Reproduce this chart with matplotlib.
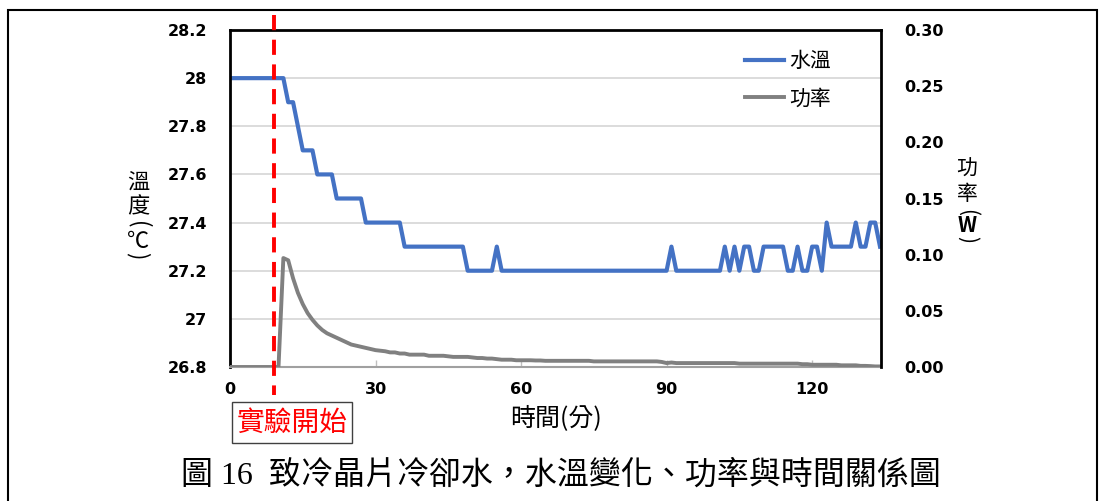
import numpy as np
import matplotlib.pyplot as plt
from matplotlib import transforms
from matplotlib.patches import Rectangle
from matplotlib.ticker import FuncFormatter

plt.rcParams['font.family'] = ['DejaVu Sans', 'Noto Sans CJK TC']
CJK = ['Noto Sans CJK TC', 'DejaVu Sans']

# ==========================================
# データ (1分ごとの記録)
# ==========================================
# 水溫 (℃), t = 0 .. 134 分
water_temp = [
    28.0, 28.0, 28.0, 28.0, 28.0, 28.0, 28.0, 28.0, 28.0, 28.0,
    28.0, 28.0, 27.9, 27.9, 27.8, 27.7, 27.7, 27.7, 27.6, 27.6,
    27.6, 27.6, 27.5, 27.5, 27.5, 27.5, 27.5, 27.5, 27.4, 27.4,
    27.4, 27.4, 27.4, 27.4, 27.4, 27.4, 27.3, 27.3, 27.3, 27.3,
    27.3, 27.3, 27.3, 27.3, 27.3, 27.3, 27.3, 27.3, 27.3, 27.2,
    27.2, 27.2, 27.2, 27.2, 27.2, 27.3, 27.2, 27.2, 27.2, 27.2,
    27.2, 27.2, 27.2, 27.2, 27.2, 27.2, 27.2, 27.2, 27.2, 27.2,
    27.2, 27.2, 27.2, 27.2, 27.2, 27.2, 27.2, 27.2, 27.2, 27.2,
    27.2, 27.2, 27.2, 27.2, 27.2, 27.2, 27.2, 27.2, 27.2, 27.2,
    27.2, 27.3, 27.2, 27.2, 27.2, 27.2, 27.2, 27.2, 27.2, 27.2,
    27.2, 27.2, 27.3, 27.2, 27.3, 27.2, 27.3, 27.3, 27.2, 27.2,
    27.3, 27.3, 27.3, 27.3, 27.3, 27.2, 27.2, 27.3, 27.2, 27.2,
    27.3, 27.3, 27.2, 27.4, 27.3, 27.3, 27.3, 27.3, 27.3, 27.4,
    27.3, 27.3, 27.4, 27.4, 27.3,
]

# 功率 (W), t = 0 .. 134 分
power_w = [
    0.000, 0.000, 0.000, 0.000, 0.000, 0.000, 0.000, 0.000, 0.000, 0.000,
    0.000, 0.097, 0.095, 0.079, 0.066, 0.056, 0.048, 0.042, 0.037, 0.033,
    0.030, 0.028, 0.026, 0.024, 0.022, 0.020, 0.019, 0.018, 0.017, 0.016,
    0.015, 0.0145, 0.014, 0.013, 0.013, 0.012, 0.012, 0.011, 0.011, 0.011,
    0.011, 0.010, 0.010, 0.010, 0.010, 0.0095, 0.009, 0.009, 0.009, 0.009,
    0.0085, 0.008, 0.008, 0.0075, 0.0075, 0.007, 0.0065, 0.0065, 0.0065, 0.006,
    0.006, 0.006, 0.006, 0.0058, 0.0058, 0.0055, 0.0055, 0.0055, 0.0055, 0.0055,
    0.0055, 0.0055, 0.0055, 0.0055, 0.0055, 0.005, 0.005, 0.005, 0.005, 0.005,
    0.005, 0.005, 0.005, 0.005, 0.005, 0.005, 0.005, 0.005, 0.005, 0.0045,
    0.0035, 0.004, 0.0035, 0.0035, 0.0035, 0.0035, 0.0035, 0.0035, 0.0035, 0.0035,
    0.0035, 0.0035, 0.0035, 0.0035, 0.0035, 0.003, 0.003, 0.003, 0.003, 0.003,
    0.003, 0.003, 0.003, 0.003, 0.003, 0.003, 0.003, 0.003, 0.0025, 0.0025,
    0.002, 0.002, 0.002, 0.002, 0.002, 0.002, 0.0015, 0.0015, 0.0015, 0.0015,
    0.001, 0.001, 0.0008, 0.0005, 0.0005,
]

minutes = np.arange(len(water_temp))
start_min = 9  # 實驗開始

x_ticks = [0, 30, 60, 90, 120]
temp_ticks = [26.8, 27.0, 27.2, 27.4, 27.6, 27.8, 28.0, 28.2]
power_ticks = [0.00, 0.05, 0.10, 0.15, 0.20, 0.25, 0.30]

caption = '圖 16  致冷晶片冷卻水，水溫變化、功率與時間關係圖'

# ==========================================
# 描画
# ==========================================
W, H = 1103, 501


def fx(px):
    return px / W


def fy(py):
    return 1 - py / H


fig = plt.figure(figsize=(W / 100, H / 100), dpi=100)
ax = fig.add_axes([fx(230), fy(367), fx(881) - fx(230), fy(30) - fy(367)])
ax2 = ax.twinx()

line_t, = ax.plot(minutes, water_temp, color='#4472C4', lw=3.0, label='水溫')
line_p, = ax2.plot(minutes, power_w, color='#808080', lw=2.8, label='功率')

ax.set_xlim(0, 134.2)
ax.set_ylim(26.8, 28.2)
ax2.set_ylim(0, 0.30)

ax.set_xticks(x_ticks)
ax.set_yticks(temp_ticks)
ax2.set_yticks(power_ticks)
ax.yaxis.set_major_formatter(FuncFormatter(lambda v, p: f'{v:g}'))
ax2.yaxis.set_major_formatter(FuncFormatter(lambda v, p: f'{v:.2f}'))

ax.grid(axis='y', color='#D9D9D9', lw=1.3)
ax.set_axisbelow(True)

ax.tick_params(axis='y', length=0, pad=16.5, labelsize=11.5)
ax2.tick_params(axis='y', length=0, pad=16.5, labelsize=11.5)
ax.tick_params(axis='x', direction='in', length=5, width=1, color='#BFBFBF',
               pad=11, labelsize=11.5)
for lbl in ax.get_xticklabels() + ax.get_yticklabels() + ax2.get_yticklabels():
    lbl.set_fontweight('bold')

# 枠線
for sp in ['left', 'top']:
    ax.spines[sp].set_color('black')
    ax.spines[sp].set_linewidth(2.0)
ax.spines['right'].set_visible(False)
ax.spines['bottom'].set_color('#A0A0A0')
ax.spines['bottom'].set_linewidth(1.5)
for sp in ['left', 'top', 'bottom']:
    ax2.spines[sp].set_visible(False)
ax2.spines['right'].set_color('black')
ax2.spines['right'].set_linewidth(2.0)

# 実験開始の赤い破線 (軸の外まで伸ばす)
trans = transforms.blended_transform_factory(ax2.transData, ax2.transAxes)
ax2.plot([start_min, start_min], [(367 - 15) / 337, (367 - 395) / 337],
         transform=trans, color='red', lw=2.8, dashes=(3.9, 2.45),
         clip_on=False, zorder=10)

# 凡例
ax2.legend([line_t, line_p], ['水溫', '功率'], loc='upper left',
           bbox_to_anchor=(fx(745), fy(50)), bbox_transform=fig.transFigure,
           frameon=False, prop={'family': CJK, 'size': 15},
           handlelength=1.85, handletextpad=0.25, labelspacing=0.75,
           borderpad=0, borderaxespad=0)


# 縦書きの軸ラベル: 括弧は90度回転して横向きの弧にする
def vertical_label(x, items, size):
    for ch, y, weight in items:
        rot = -90 if ch in '()' else 0
        fig.text(fx(x), fy(y), ch, family=CJK, fontsize=size, fontweight=weight,
                 rotation=rot, ha='center', va='center')


vertical_label(138, [('溫', 182, 'normal'), ('度', 207, 'normal'),
                     ('(', 225, 'normal'), ('℃', 241, 'normal'),
                     (')', 256, 'normal')], 16)
vertical_label(967, [('功', 169, 'normal'), ('率', 194, 'normal'),
                     ('(', 212, 'normal'), ('W', 226, 'bold'),
                     (')', 240, 'normal')], 15)

fig.text(fx(556), fy(418), '時間(分)', family=CJK, fontsize=18,
         ha='center', va='center')

# 「實驗開始」の枠
fig.add_artist(Rectangle((fx(232), fy(443)), fx(352) - fx(232), fy(402) - fy(443),
                         transform=fig.transFigure, facecolor='white',
                         edgecolor='#404040', lw=1.0))
fig.text(fx(292), fy(423), '實驗開始', family=CJK, color='red', fontsize=20,
         ha='center', va='center')

# 図番号
fig.text(fx(181), fy(475), caption, family=['Liberation Serif', 'Noto Sans CJK TC'],
         fontsize=23, ha='left', va='center')

# 外枠
fig.add_artist(Rectangle((fx(8), -0.1), fx(1097) - fx(8), fy(10) + 0.1,
                         transform=fig.transFigure, fill=False,
                         edgecolor='black', lw=1.5))

fig.savefig('out.png', dpi=100)
